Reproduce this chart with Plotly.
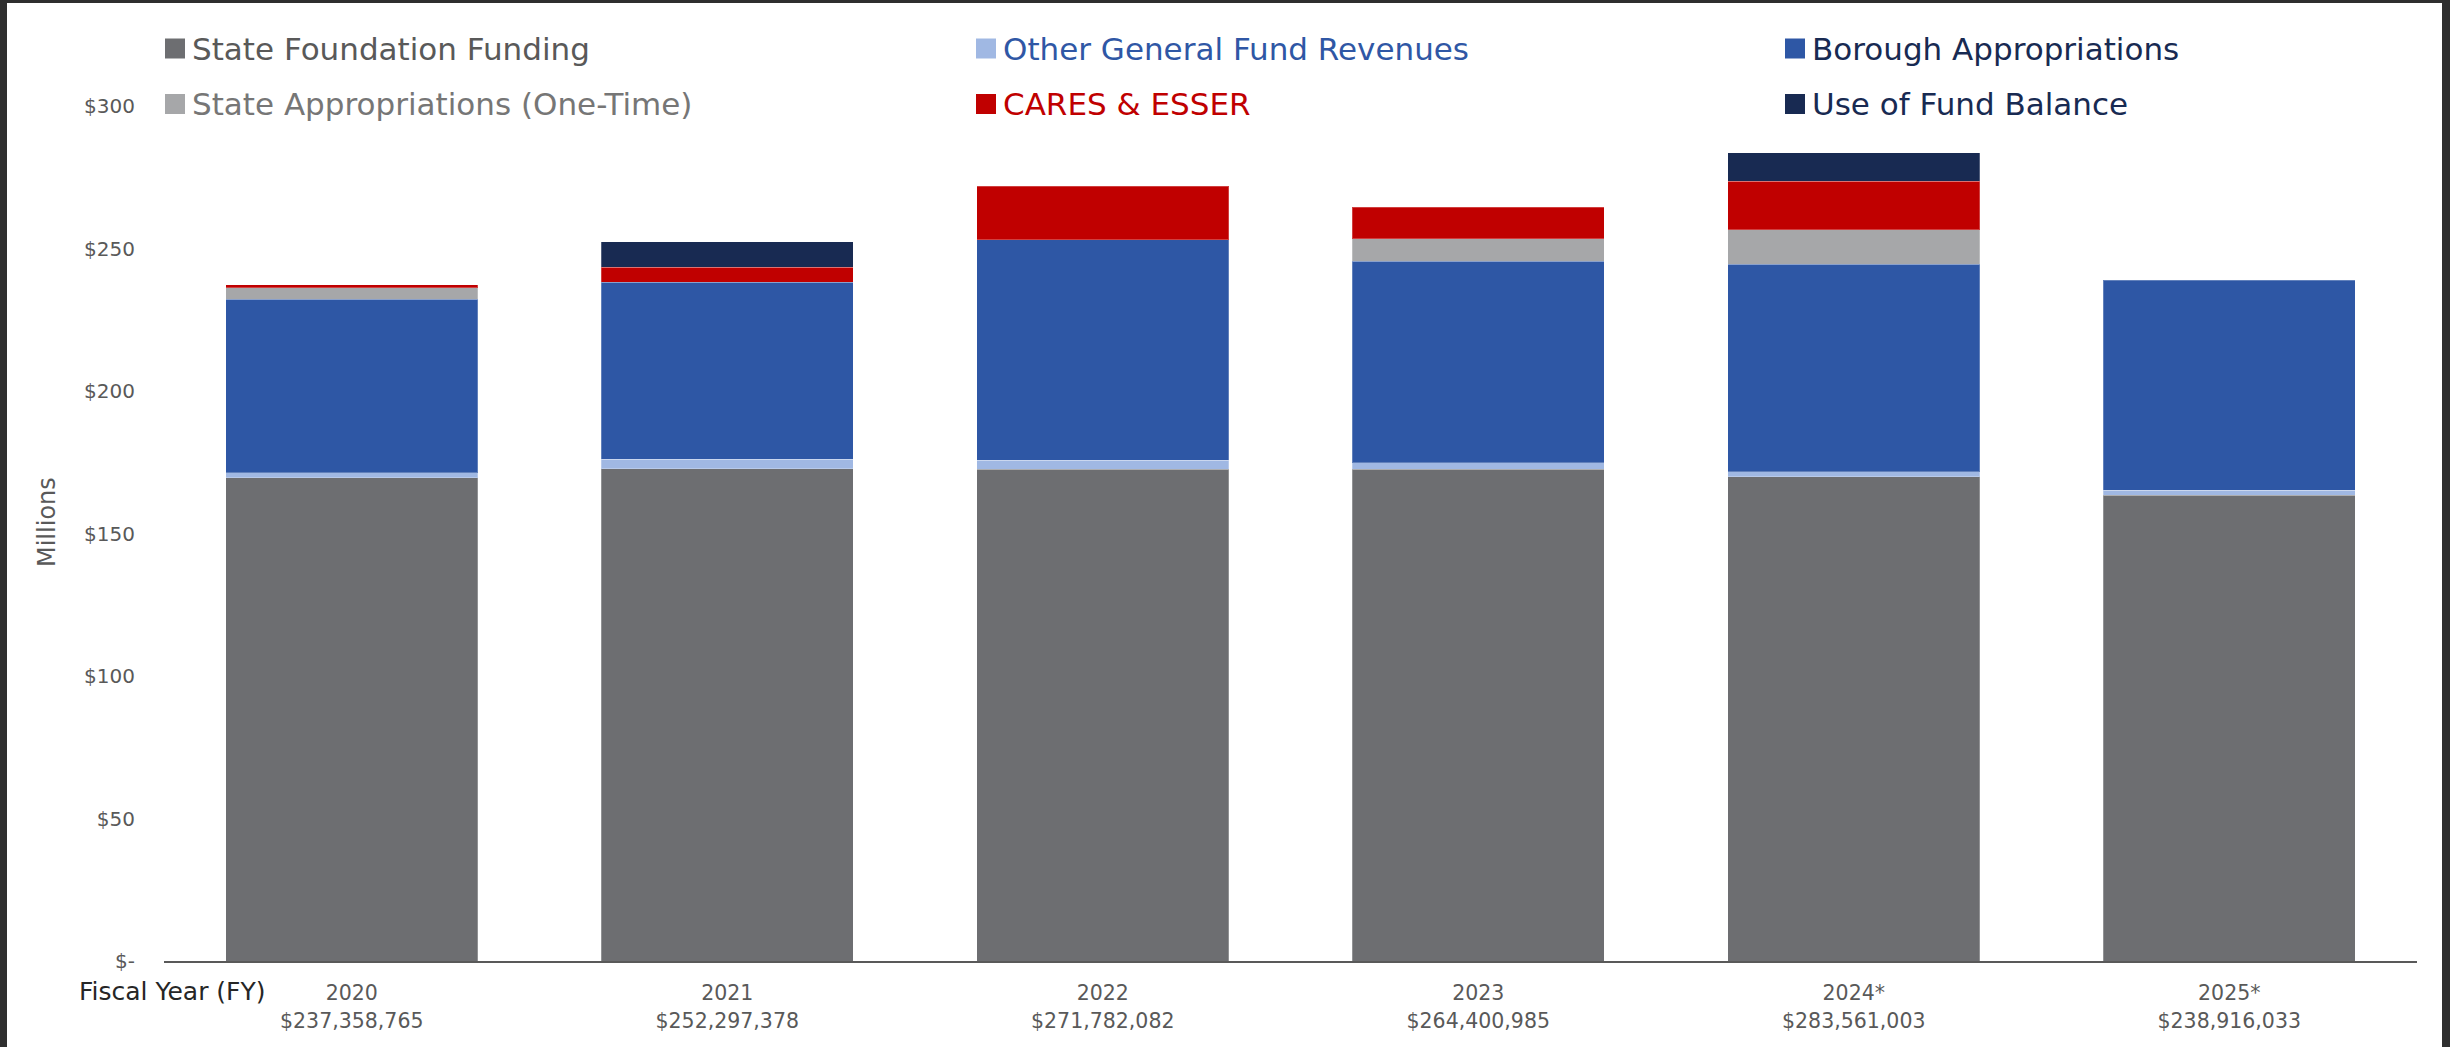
import plotly.graph_objects as go

# ---- data (values in $ millions) ----
years = ["2020", "2021", "2022", "2023", "2024*", "2025*"]
totals = [237358765, 252297378, 271782082, 264400985, 283561003, 238916033]

series_names = [
    "State Foundation Funding",
    "Other General Fund Revenues",
    "Borough Appropriations",
    "State Appropriations (One-Time)",
    "CARES & ESSER",
    "Use of Fund Balance",
]
state_foundation = [169.5, 172.7, 172.5, 172.6, 170.0, 163.5]
other_general = [1.86, 3.3, 3.2, 2.2, 1.65, 1.65]
borough = [60.8, 62.2, 77.3, 70.8, 72.8, 73.77]
state_one_time = [4.0, None, None, 7.8, 12.2, None]
cares_esser = [1.2, 5.3, 18.78, 11.0, 16.9, None]
fund_balance = [None, 8.8, None, None, 10.01, None]

y_tickvals = [0, 50, 100, 150, 200, 250, 300]
y_ticktext = ["$-", "$50", "$100", "$150", "$200", "$250", "$300"]

# ---- styling ----
bar_colors = ["#6D6E71", "#A0B8E3", "#2E57A5", "#A6A7A9", "#C00000", "#182A52"]
legend_text_colors = ["#595959", "#2F57A5", "#182A52", "#767676", "#C00000", "#182A52"]
FONT = "DejaVu Sans"

W, H = 2450, 1047
L, R, T, B = 164, 33, 106, 86
PW, PH = W - L - R, H - T - B


def px_x(p):
    return (p - L) / PW


def px_y(p):
    return (H - B - p) / PH


series_values = [state_foundation, other_general, borough,
                 state_one_time, cares_esser, fund_balance]

total_labels = [f"${t:,}" for t in totals]

fig = go.Figure()
for name, vals, col in zip(series_names, series_values, bar_colors):
    fig.add_trace(go.Bar(
        x=years, y=vals, name=name,
        marker=dict(color=col, line=dict(color="rgba(255,255,255,0.25)", width=1)),
        showlegend=False,
    ))

# second category axis carrying each year's total under the year label
fig.add_trace(go.Scatter(
    x=years, y=[t / 1e6 for t in totals], xaxis="x2", mode="markers",
    marker=dict(opacity=0), showlegend=False, hoverinfo="skip",
))

# dark frame edges around the canvas
frame = "#2f2f2f"
shapes = [
    dict(type="rect", xref="paper", yref="paper", x0=px_x(0), x1=px_x(7),
         y0=px_y(H), y1=px_y(0), fillcolor=frame, line_width=0),
    dict(type="rect", xref="paper", yref="paper", x0=px_x(0), x1=px_x(W),
         y0=px_y(3), y1=px_y(0), fillcolor=frame, line_width=0),
    dict(type="rect", xref="paper", yref="paper", x0=px_x(2442), x1=px_x(W),
         y0=px_y(H), y1=px_y(0), fillcolor=frame, line_width=0),
]

annotations = []
# legend, three columns by two rows
legend_cols = [165, 976, 1785]
legend_rows = [48.5, 104]
for i, name in enumerate(series_names):
    mx = legend_cols[i % 3]
    cy = legend_rows[i // 3]
    shapes.append(dict(type="rect", xref="paper", yref="paper",
                       x0=px_x(mx), x1=px_x(mx + 20),
                       y0=px_y(cy + 10), y1=px_y(cy - 10),
                       fillcolor=bar_colors[i], line_width=0))
    annotations.append(dict(xref="paper", yref="paper", x=px_x(mx + 25), y=px_y(cy),
                            xanchor="left", yanchor="middle", showarrow=False,
                            text=name,
                            font=dict(family=FONT, size=31, color=legend_text_colors[i])))

annotations.append(dict(xref="paper", yref="paper", x=px_x(47), y=px_y(522),
                        xanchor="center", yanchor="middle", showarrow=False,
                        textangle=-90, text="Millions",
                        font=dict(family=FONT, size=24, color="#595959")))
annotations.append(dict(xref="paper", yref="paper", x=px_x(172), y=px_y(991),
                        xanchor="center", yanchor="middle", showarrow=False,
                        text="Fiscal Year (FY)",
                        font=dict(family=FONT, size=25, color="#262626")))

tick_font = dict(family=FONT, size=20.5, color="#595959")

fig.update_layout(
    width=W, height=H,
    margin=dict(l=L, r=R, t=T, b=B, pad=0),
    paper_bgcolor="white", plot_bgcolor="white",
    barmode="stack", bargap=0.33,
    font=dict(family=FONT, color="#595959"),
    shapes=shapes, annotations=annotations,
    showlegend=False,
    xaxis=dict(
        type="category", range=[-0.5, 5.5],
        categoryorder="array", categoryarray=years,
        tickfont=tick_font,
        showgrid=False, zeroline=False,
        showline=True, linecolor="#595959", linewidth=2,
        ticks="", ticklabelstandoff=12,
    ),
    xaxis2=dict(
        type="category", range=[-0.5, 5.5],
        categoryorder="array", categoryarray=years,
        overlaying="x", anchor="free", position=0, side="bottom",
        tickvals=years, ticktext=total_labels,
        tickfont=tick_font,
        showgrid=False, zeroline=False, showline=False,
        ticks="", ticklabelstandoff=45,
    ),
    yaxis=dict(
        range=[0, 300], tickvals=y_tickvals, ticktext=y_ticktext,
        tickfont=dict(family=FONT, size=20, color="#595959"),
        showgrid=False, zeroline=False, showline=False,
        ticks="", ticklabelstandoff=28,
    ),
)

fig.write_html("out.html")
